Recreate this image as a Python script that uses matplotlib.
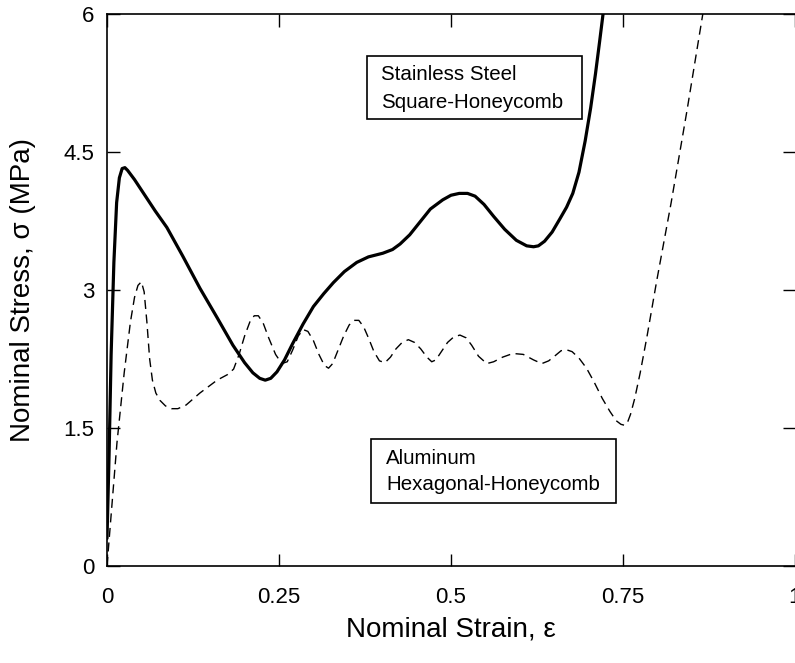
import matplotlib
matplotlib.use("Agg")
import matplotlib.pyplot as plt
from matplotlib.patches import Rectangle

plt.rcParams['font.family'] = ['Liberation Sans', 'DejaVu Sans']

# Stainless steel square-honeycomb (solid)
steel_strain = [0, 0.003, 0.006, 0.010, 0.014, 0.018, 0.022, 0.026, 0.030, 0.040,
                0.055, 0.070, 0.087, 0.110, 0.135, 0.160, 0.183, 0.200, 0.212, 0.222,
                0.230, 0.238, 0.247, 0.258, 0.270, 0.285, 0.300, 0.315, 0.329, 0.345,
                0.363, 0.380, 0.401, 0.415, 0.426, 0.440, 0.455, 0.470, 0.488, 0.500,
                0.512, 0.524, 0.535, 0.548, 0.562, 0.578, 0.595, 0.610, 0.620, 0.627,
                0.636, 0.647, 0.658, 0.668, 0.677, 0.686, 0.695, 0.703, 0.710, 0.716,
                0.721]
steel_stress = [0.3, 1.2, 2.3, 3.3, 3.95, 4.22, 4.32, 4.33, 4.3, 4.2,
                4.03, 3.86, 3.68, 3.37, 3.02, 2.7, 2.4, 2.21, 2.1, 2.04,
                2.02, 2.04, 2.11, 2.24, 2.42, 2.63, 2.82, 2.96, 3.08, 3.2,
                3.3, 3.36, 3.4, 3.44, 3.5, 3.6, 3.74, 3.88, 3.98, 4.03,
                4.05, 4.05, 4.02, 3.93, 3.8, 3.66, 3.54, 3.48, 3.47, 3.48,
                3.53, 3.63, 3.77, 3.9, 4.05, 4.28, 4.62, 4.98, 5.35, 5.7,
                6.0]

# Aluminum hexagonal-honeycomb (dashed)
al_strain = [0, 0.0145, 0.025, 0.034, 0.040, 0.045, 0.050, 0.054, 0.058, 0.062,
             0.066, 0.071, 0.077, 0.085, 0.094, 0.103, 0.115, 0.135, 0.160, 0.175,
             0.184, 0.192, 0.200, 0.208, 0.214, 0.220, 0.227, 0.235, 0.245, 0.254,
             0.262, 0.270, 0.278, 0.285, 0.292, 0.300, 0.308, 0.316, 0.322, 0.328,
             0.336, 0.344, 0.352, 0.359, 0.366, 0.373, 0.380, 0.388, 0.396, 0.404,
             0.412, 0.420, 0.429, 0.438, 0.447, 0.456, 0.465, 0.472, 0.478, 0.486,
             0.495, 0.504, 0.513, 0.522, 0.530, 0.540, 0.552, 0.562, 0.575, 0.590,
             0.605, 0.620, 0.632, 0.642, 0.652, 0.660, 0.668, 0.676, 0.686, 0.697,
             0.708, 0.720, 0.731, 0.740, 0.747, 0.752, 0.756, 0.761, 0.767, 0.775,
             0.785, 0.799, 0.820, 0.843, 0.866]
al_stress = [0, 1.34, 2.1, 2.65, 2.92, 3.05, 3.09, 2.98, 2.65, 2.25,
             2.02, 1.88, 1.8, 1.74, 1.71, 1.71, 1.75, 1.88, 2.02, 2.08,
             2.14, 2.3, 2.5, 2.66, 2.72, 2.72, 2.64, 2.48, 2.3, 2.2,
             2.22, 2.35, 2.5, 2.57, 2.55, 2.45, 2.3, 2.18, 2.15, 2.2,
             2.35, 2.5, 2.62, 2.67, 2.67, 2.6, 2.48, 2.33, 2.23, 2.21,
             2.27, 2.36, 2.43, 2.46, 2.43, 2.36, 2.27, 2.22, 2.24, 2.33,
             2.43, 2.49, 2.51, 2.48, 2.4, 2.28, 2.2, 2.22, 2.27, 2.31,
             2.3, 2.24, 2.2, 2.23, 2.29, 2.34, 2.35, 2.33, 2.26, 2.15,
             2.0, 1.82, 1.68, 1.58, 1.54, 1.53, 1.55, 1.65, 1.82, 2.1,
             2.5, 3.1, 3.95, 4.95, 6.0]

x_ticks = [0, 0.25, 0.5, 0.75, 1]
x_ticklabels = ['0', '0.25', '0.5', '0.75', '1']
y_ticks = [0, 1.5, 3, 4.5, 6]
y_ticklabels = ['0', '1.5', '3', '4.5', '6']

W, H = 795, 663
fig = plt.figure(figsize=(W / 100, H / 100), dpi=100)
ax = fig.add_axes([107 / W, (H - 566) / H, 688 / W, 552 / H])

ax.plot(steel_strain, steel_stress, color='black', lw=2.3,
        solid_joinstyle='round', solid_capstyle='round')
ax.plot(al_strain, al_stress, color='black', lw=1.0, dashes=(6.5, 4))

ax.set_xlim(0, 1)
ax.set_ylim(0, 6)
ax.set_xticks(x_ticks)
ax.set_xticklabels(x_ticklabels)
ax.set_yticks(y_ticks)
ax.set_yticklabels(y_ticklabels)
ax.tick_params(axis='both', direction='in', length=9, width=1, labelsize=16,
               top=True, right=True)
ax.tick_params(axis='x', pad=15)
ax.tick_params(axis='y', pad=9)
for s in ['left', 'bottom', 'top']:
    ax.spines[s].set_linewidth(1.2)
ax.spines['right'].set_visible(False)

ax.set_xlabel('Nominal Strain, ε', fontsize=20)
ax.xaxis.set_label_coords(0.5, -0.092)
ax.set_ylabel('Nominal Stress, σ (MPa)', fontsize=20, va='center')
ax.yaxis.set_label_coords(-0.122, 0.5)

def px_x(p):
    return (p - 107) / 688

def px_y(p):
    return (566 - p) / 552

# Box 1
ax.add_patch(Rectangle((px_x(367), px_y(119)), px_x(582) - px_x(367), px_y(56) - px_y(119),
                       transform=ax.transAxes, fill=False, lw=1.2, ec='black', clip_on=False))
ax.text(px_x(381), px_y(75), 'Stainless Steel', transform=ax.transAxes, fontsize=14.8,
        va='center', ha='left')
ax.text(px_x(381), px_y(103), 'Square-Honeycomb', transform=ax.transAxes, fontsize=14.8,
        va='center', ha='left')

# Box 2
ax.add_patch(Rectangle((px_x(371), px_y(503)), px_x(616) - px_x(371), px_y(439) - px_y(503),
                       transform=ax.transAxes, fill=False, lw=1.2, ec='black', clip_on=False))
ax.text(px_x(386), px_y(458), 'Aluminum', transform=ax.transAxes, fontsize=14.8,
        va='center', ha='left')
ax.text(px_x(386), px_y(484), 'Hexagonal-Honeycomb', transform=ax.transAxes, fontsize=14.8,
        va='center', ha='left')

fig.savefig('out.png', dpi=100)
